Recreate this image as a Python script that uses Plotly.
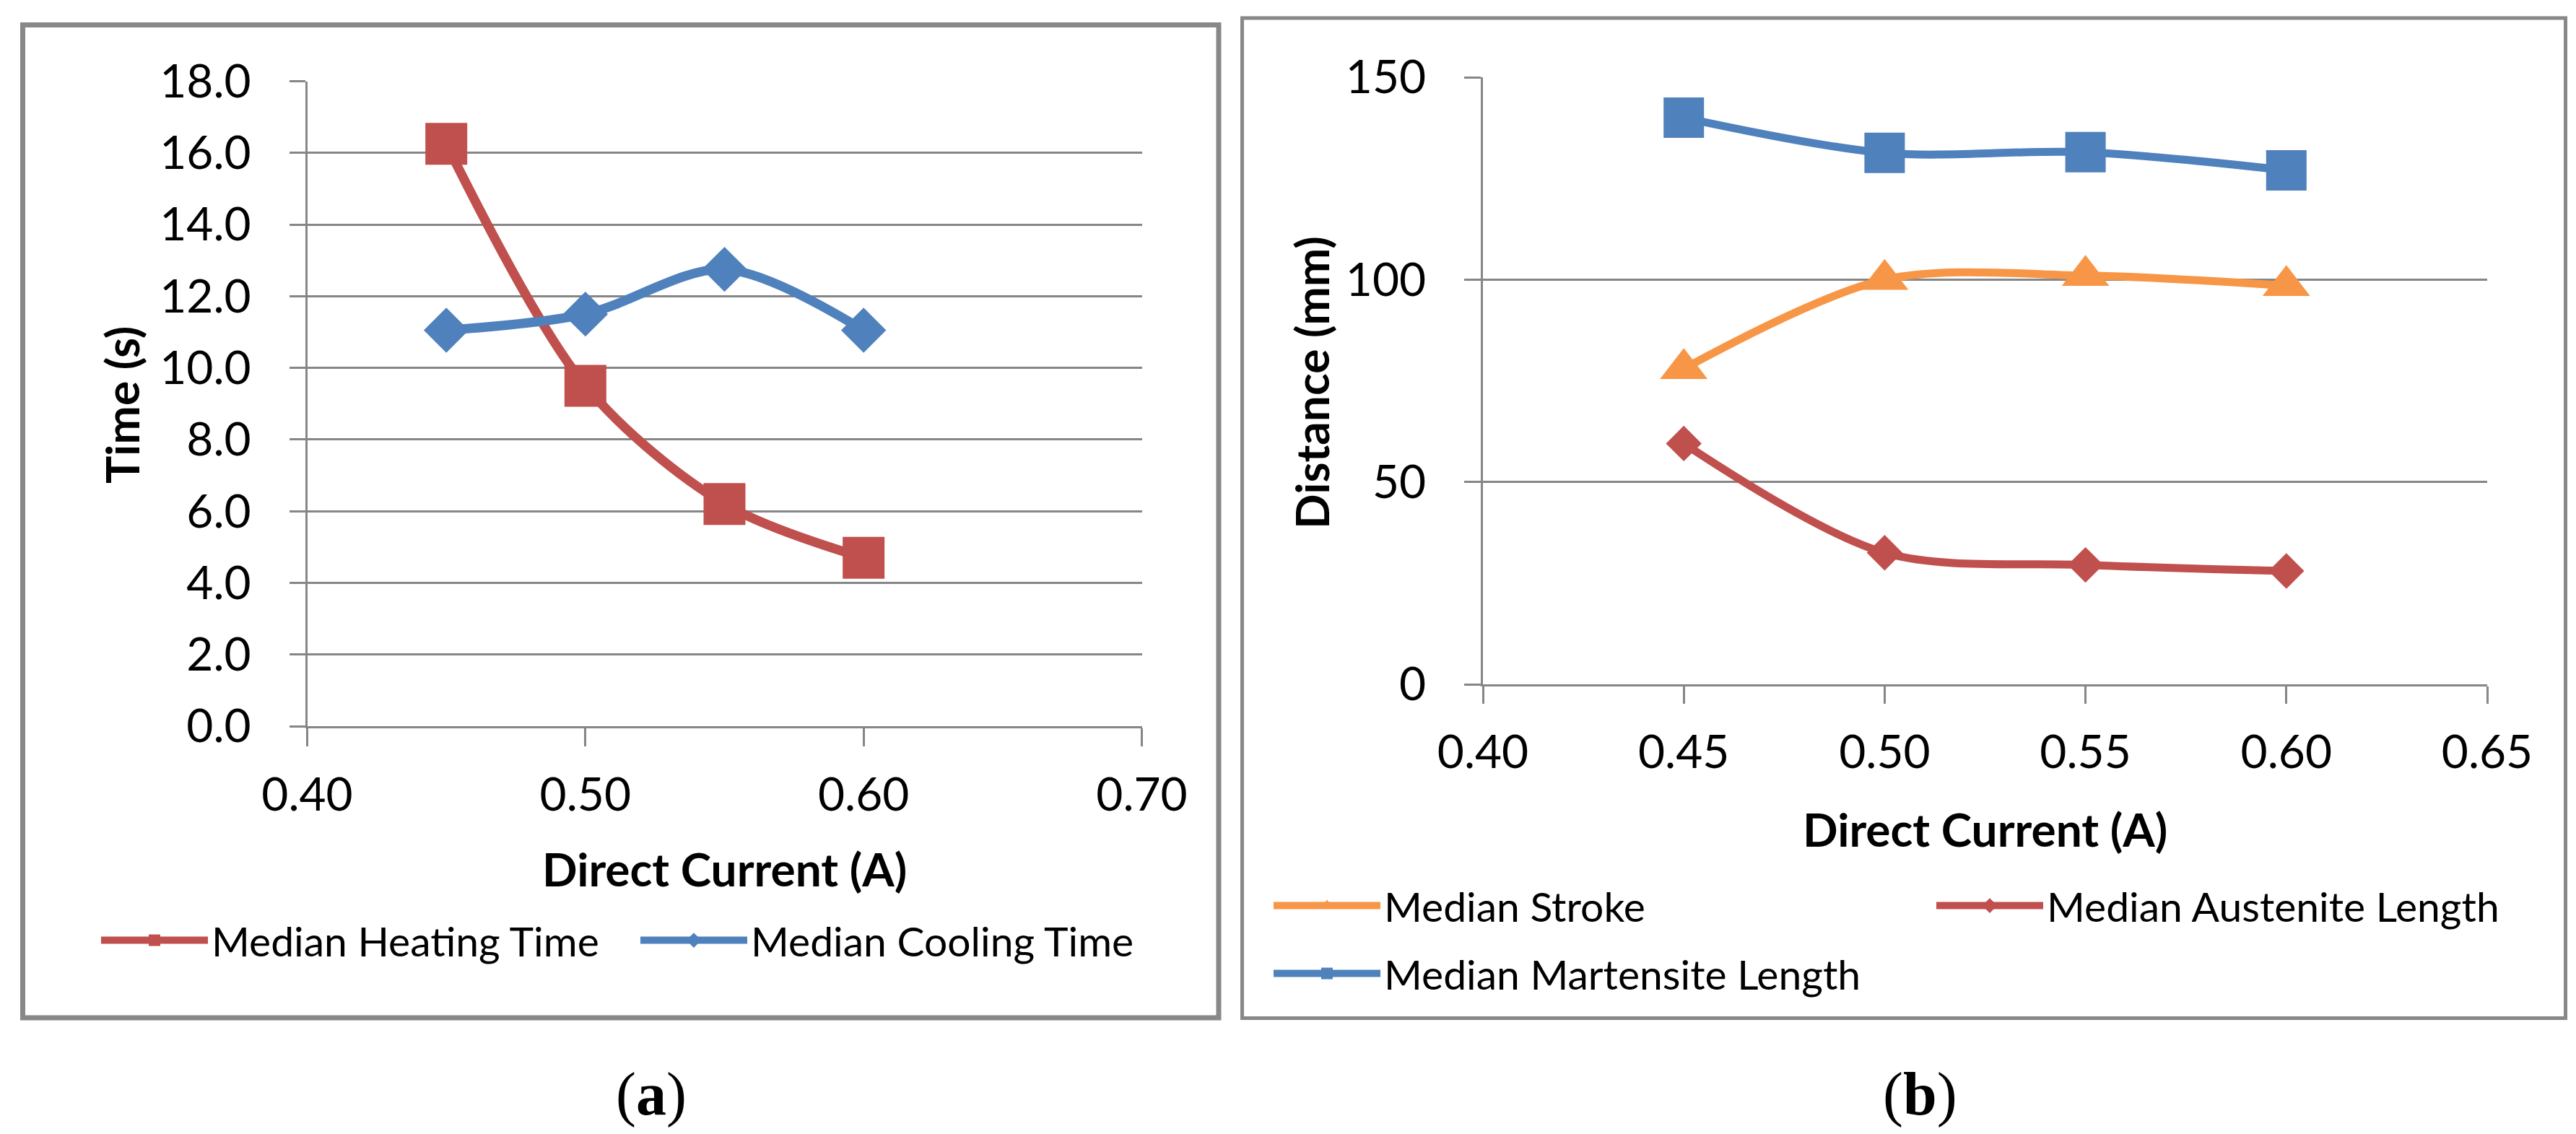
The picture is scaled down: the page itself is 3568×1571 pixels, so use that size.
import plotly.graph_objects as go

# ---------------- data ----------------
current_a = [0.45, 0.50, 0.55, 0.60]
heating_time = [16.25, 9.5, 6.2, 4.7]
cooling_time = [11.05, 11.5, 12.75, 11.05]

current_b = [0.45, 0.50, 0.55, 0.60]
median_stroke = [78, 100, 101, 98.5]
austenite_length = [59.5, 32.5, 29.5, 28]
martensite_length = [140, 131.3, 131.5, 127]

name_heat = "Median Heating Time"
name_cool = "Median Cooling Time"
name_stroke = "Median Stroke"
name_aust = "Median Austenite Length"
name_mart = "Median Martensite Length"

# ---------------- styling ----------------
W, H = 3568, 1571
RED = "#C0504D"
BLUE = "#4F81BD"
ORANGE = "#F79646"
GRID = "#868686"
FONT = "Lato, Open Sans, sans-serif"
TICK_SIZE = 64
TITLE_SIZE = 64
LEG_SIZE = 57
ITEM_W = 148


def px_x(p):
    return p / W


def px_y(p):
    return 1 - p / H


fig = go.Figure()

fig.add_trace(go.Scatter(
    x=current_a, y=heating_time, name=name_heat, mode="lines+markers",
    line=dict(color=RED, width=13, shape="spline", smoothing=0.9),
    marker=dict(symbol="square", size=58, color=RED),
    xaxis="x", yaxis="y", legend="legend"))
fig.add_trace(go.Scatter(
    x=current_a, y=cooling_time, name=name_cool, mode="lines+markers",
    line=dict(color=BLUE, width=13, shape="spline", smoothing=0.9),
    marker=dict(symbol="diamond", size=48, color=BLUE),
    xaxis="x", yaxis="y", legend="legend"))

fig.add_trace(go.Scatter(
    x=current_b, y=median_stroke, name=name_stroke, mode="lines+markers",
    line=dict(color=ORANGE, width=11, shape="spline", smoothing=0.9),
    marker=dict(symbol="triangle-up", size=57, color=ORANGE),
    xaxis="x2", yaxis="y2", legend="legend2"))
fig.add_trace(go.Scatter(
    x=current_b, y=austenite_length, name=name_aust, mode="lines+markers",
    line=dict(color=RED, width=11, shape="spline", smoothing=0.9),
    marker=dict(symbol="diamond", size=38, color=RED),
    xaxis="x2", yaxis="y2", legend="legend2"))
fig.add_trace(go.Scatter(
    x=current_b, y=martensite_length, name=name_mart, mode="lines+markers",
    line=dict(color=BLUE, width=11, shape="spline", smoothing=0.9),
    marker=dict(symbol="square", size=56, color=BLUE),
    xaxis="x2", yaxis="y2", legend="legend3"))

axis_common = dict(
    showgrid=True, gridcolor=GRID, gridwidth=3,
    showline=True, linecolor=GRID, linewidth=3,
    ticks="outside", tickcolor=GRID, tickwidth=3,
    zeroline=False, fixedrange=True, automargin=False,
    tickfont=dict(family=FONT, size=TICK_SIZE, color="#000000"),
)

leg_common = dict(orientation="h", xanchor="left", yanchor="middle",
                  bgcolor="rgba(0,0,0,0)", itemwidth=ITEM_W, itemsizing="trace",
                  font=dict(family=FONT, size=LEG_SIZE, color="#000000"))

fig.update_layout(
    width=W, height=H,
    margin=dict(l=0, r=0, t=0, b=0, pad=0, autoexpand=False),
    paper_bgcolor="white", plot_bgcolor="white",
    showlegend=True,
    xaxis=dict(axis_common, domain=[px_x(417.5), px_x(1573.5)], range=[0.40, 0.70],
               dtick=0.1, tick0=0.4, tickformat=".2f", showgrid=False,
               ticklen=25, ticklabelstandoff=12, anchor="y"),
    yaxis=dict(axis_common, domain=[px_y(998), px_y(104.5)], range=[0, 18],
               dtick=2, tick0=0, tickformat=".1f",
               ticklen=22, ticklabelstandoff=40, anchor="x"),
    xaxis2=dict(axis_common, domain=[px_x(2046), px_x(3437)], range=[0.40, 0.65],
                dtick=0.05, tick0=0.4, tickformat=".2f", showgrid=False,
                ticklen=24, ticklabelstandoff=12, anchor="y2"),
    yaxis2=dict(axis_common, domain=[px_y(940), px_y(99)], range=[0, 150],
                dtick=50, tick0=0, ticklen=23, ticklabelstandoff=40, anchor="x2"),
    legend=dict(leg_common, x=px_x(127), y=px_y(1295),
                entrywidth=584, entrywidthmode="pixels"),
    legend2=dict(leg_common, x=px_x(1751), y=px_y(1247),
                 entrywidth=755, entrywidthmode="pixels"),
    legend3=dict(leg_common, x=px_x(1751), y=px_y(1341)),
)

# panel frames
fig.add_shape(type="rect", xref="paper", yref="paper",
              x0=px_x(23.5), x1=px_x(1680), y0=px_y(1402), y1=px_y(26.5),
              line=dict(color="#888888", width=7), layer="below")
fig.add_shape(type="rect", xref="paper", yref="paper",
              x0=px_x(1712.5), x1=px_x(3545.5), y0=px_y(1402.5), y1=px_y(17),
              line=dict(color="#888888", width=5), layer="below")

title_font = dict(family=FONT, size=TITLE_SIZE, color="#000000")
ann = [
    dict(text="<b>Time (s)</b>", x=px_x(160), y=px_y(553), textangle=-90, font=title_font),
    dict(text="<b>Direct Current (A)</b>", x=px_x(995), y=px_y(1195), font=title_font),
    dict(text="<b>Distance (mm)</b>", x=px_x(1808), y=px_y(522), textangle=-90, font=title_font),
    dict(text="<b>Direct Current (A)</b>", x=px_x(2741), y=px_y(1140), font=title_font),
    dict(text="(<b>a</b>)", x=px_x(894), y=px_y(1508),
         font=dict(family="Liberation Serif, Times New Roman, serif", size=84, color="#000000")),
    dict(text="(<b>b</b>)", x=px_x(2651), y=px_y(1508),
         font=dict(family="Liberation Serif, Times New Roman, serif", size=84, color="#000000")),
]
for a in ann:
    fig.add_annotation(xref="paper", yref="paper", showarrow=False,
                       xanchor="center", yanchor="middle", **a)

fig.write_html("out.html")
